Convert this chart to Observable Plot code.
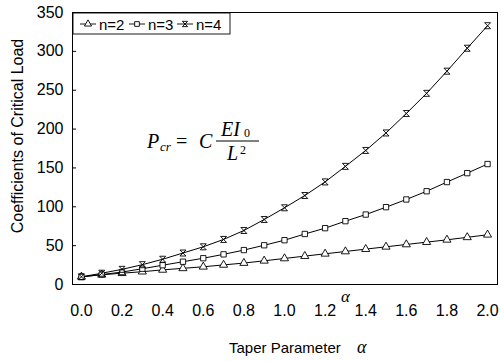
<!DOCTYPE html>
<html>
<head>
<meta charset="utf-8">
<script src="https://cdn.jsdelivr.net/npm/d3@7"></script>
<script src="https://cdn.jsdelivr.net/npm/@observablehq/plot@0.6"></script>
<style>
  body { margin: 0; background: #fff; }
  #chart { position: relative; width: 501px; height: 361px; }
</style>
</head>
<body>
<div id="chart"></div>
<script>
// Taper parameter values (x)
const alpha = [0.0, 0.1, 0.2, 0.3, 0.4, 0.5, 0.6, 0.7, 0.8, 0.9, 1.0,
               1.1, 1.2, 1.3, 1.4, 1.5, 1.6, 1.7, 1.8, 1.9, 2.0];
// Coefficients of critical load for each series
const n2 = [9.87, 12.5, 14.5, 16.5, 18.8, 20.8, 22.8, 25.2, 27.6, 30.5, 33.5,
            36.5, 39.5, 42.5, 45.5, 48.5, 51.5, 54.5, 57.5, 60.7, 64.0];
const n3 = [9.87, 12.8, 16.0, 20.3, 24.8, 29.3, 33.8, 38.8, 44.3, 50.5, 57.0,
            65.0, 72.5, 81.5, 90.0, 99.5, 109.4, 120.0, 131.8, 143.3, 155.0];
const n4 = [9.87, 14.5, 19.5, 25.5, 32.5, 40.5, 48.5, 58.0, 69.5, 83.6, 98.7,
            114.5, 132.0, 152.0, 172.5, 195.0, 220.0, 246.0, 274.5, 304.0, 333.0];
const seriesNames = ["n=2", "n=3", "n=4"];
const xTicks = [0.0, 0.2, 0.4, 0.6, 0.8, 1.0, 1.2, 1.4, 1.6, 1.8, 2.0];
const yTicks = [0, 50, 100, 150, 200, 250, 300, 350];

const SANS = "Liberation Sans, Arial, sans-serif";
const SERIF = "Liberation Serif, Times New Roman, serif";

// custom hourglass ("x with bars") marker
const hourglass = {
  draw(ctx, size) {
    const r = Math.sqrt(size / Math.PI);
    ctx.moveTo(-r, -r); ctx.lineTo(r, -r); ctx.lineTo(-r, r); ctx.lineTo(r, r); ctx.closePath();
  }
};
const symbolFor = {"n=2": "triangle", "n=3": "square", "n=4": hourglass};

const seriesValues = [n2, n3, n4];
const rows = [];
seriesNames.forEach((s, k) => alpha.forEach((a, i) => rows.push({a, v: seriesValues[k][i], s})));

const plot = Plot.plot({
  width: 501,
  height: 361,
  marginLeft: 72,
  marginRight: 4,
  marginTop: 12,
  marginBottom: 77,
  style: {fontFamily: SANS, fontSize: "16px", color: "black", background: "white"},
  x: {domain: [-0.044, 2.049]},
  y: {domain: [0, 350]},
  marks: [
    Plot.frame({stroke: "black", strokeWidth: 1}),
    Plot.ruleY(yTicks, {x1: -0.044, x2: -0.024, stroke: "black", strokeWidth: 1}),
    Plot.axisY(yTicks, {tickSize: 0, tickPadding: 9, fontSize: 16, label: null}),
    Plot.axisX(xTicks, {tickSize: 0, tickPadding: 20, fontSize: 16, label: null, tickFormat: d => d.toFixed(1)}),
    Plot.line(rows, {x: "a", y: "v", z: "s", stroke: "black", strokeWidth: 1}),
    Plot.dot(rows, {x: "a", y: "v", symbol: d => symbolFor[d.s], r: 3, stroke: "black", fill: d => d.s === "n=4" ? "none" : "white", strokeWidth: 0.9})
  ]
});
document.getElementById("chart").appendChild(plot);

const svg = d3.select(plot);
const sy = plot.scale("y");

function txt(parent, x, y, s, size, family, italic, anchor) {
  return parent.append("text").attr("x", x).attr("y", y)
    .attr("text-anchor", anchor || "start")
    .style("font-family", family).style("font-size", size + "px")
    .style("font-style", italic ? "italic" : "normal").text(s);
}

// Axis titles
svg.append("text")
  .attr("transform", `translate(19, ${(sy.apply(0) + sy.apply(350)) / 2 - 12}) rotate(-90)`)
  .attr("text-anchor", "middle").attr("dominant-baseline", "middle")
  .style("font-family", SANS).style("font-size", "16px").text("Coefficients of Critical Load");
txt(svg, 229, 353, "Taper Parameter", 15, SANS, false);
txt(svg, 357, 353, "α", 18, SERIF, true);
txt(svg, 341, 302, "α", 17, SERIF, true);

// Formula  P_cr = C EI0 / L^2
const f = svg.append("g");
txt(f, 147, 148, "P", 20, SERIF, true);
txt(f, 160, 151, "cr", 13, SERIF, true);
txt(f, 176, 148, "=", 20, SERIF, false);
txt(f, 199, 148, "C", 20, SERIF, true);
f.append("line").attr("x1", 216).attr("x2", 259).attr("y1", 141).attr("y2", 141).attr("stroke", "black").attr("stroke-width", 1);
txt(f, 221, 136, "EI", 20, SERIF, true);
txt(f, 244, 137, "0", 12, SERIF, false);
txt(f, 227, 160, "L", 20, SERIF, true);
txt(f, 240, 154, "2", 12, SERIF, false);

// Legend
const lg = svg.append("g");
lg.append("rect").attr("x", 73).attr("y", 13).attr("width", 157).attr("height", 21)
  .attr("fill", "white").attr("stroke", "black").attr("stroke-width", 0.9);
const legendX = [88, 137, 185];
const d3sym = {"n=2": d3.symbolTriangle, "n=3": d3.symbolSquare, "n=4": hourglass};
seriesNames.forEach((s, i) => {
  const cx = legendX[i], cy = 24;
  lg.append("line").attr("x1", cx - 8).attr("x2", cx + 8).attr("y1", cy).attr("y2", cy).attr("stroke", "black").attr("stroke-width", 0.9);
  lg.append("path").attr("transform", `translate(${cx},${cy})`)
    .attr("d", d3.symbol(d3sym[s], Math.PI * 7)())
    .attr("fill", s === "n=4" ? "none" : "white").attr("stroke", "black").attr("stroke-width", 0.9);
  txt(lg, cx + 11, cy + 5.5, s, 15, SANS, false);
});
</script>
</body>
</html>
